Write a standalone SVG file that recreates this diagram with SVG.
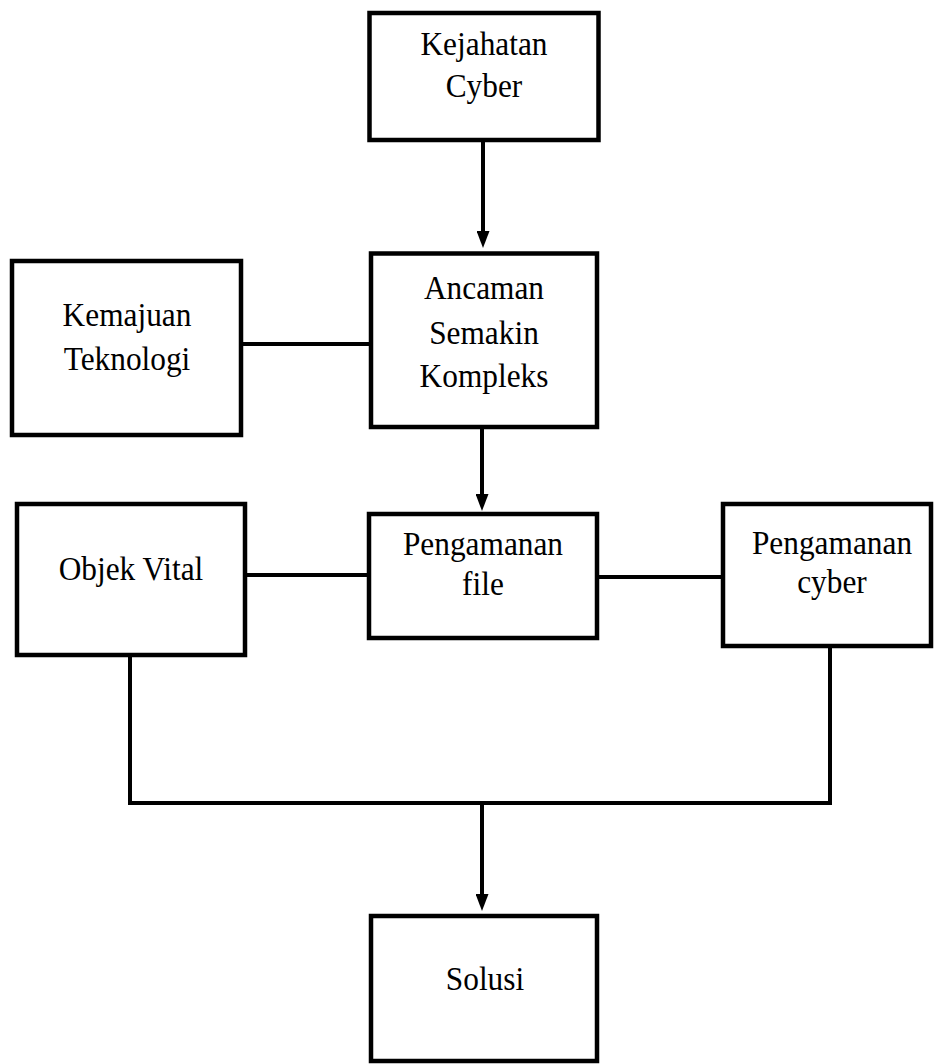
<svg xmlns="http://www.w3.org/2000/svg" width="935" height="1064" viewBox="0 0 935 1064">
<style>
.box{fill:#fff;stroke:#000;stroke-width:4.5}
.ln{fill:none;stroke:#000;stroke-width:4}
text{font-family:"Liberation Serif","Times New Roman",serif;font-size:33px;fill:#000;text-anchor:middle;transform-box:fill-box;transform-origin:center;transform:scaleX(0.95)}
</style>
<defs>
<marker id="ah" markerUnits="userSpaceOnUse" markerWidth="17" markerHeight="13" refX="0" refY="6.5" orient="auto" viewBox="0 0 17 13">
<path d="M0,0 L17,6.5 L0,13 Z" fill="#000"/>
</marker>
</defs>
<rect width="935" height="1064" fill="#fff"/>
<g id="connectors">
<line class="ln" x1="483" y1="142" x2="483" y2="231" marker-end="url(#ah)"/>
<line class="ln" x1="243" y1="344" x2="369" y2="344"/>
<line class="ln" x1="482" y1="429" x2="482" y2="494" marker-end="url(#ah)"/>
<line class="ln" x1="247" y1="575" x2="367" y2="575"/>
<line class="ln" x1="599" y1="577" x2="721" y2="577"/>
<polyline class="ln" points="130,657 130,803 830,803 830,648"/>
<line class="ln" x1="482" y1="803" x2="482" y2="894" marker-end="url(#ah)"/>
</g>
<g id="kejahatan">
<rect class="box" x="369.5" y="13" width="229" height="127"/>
<text x="484" y="55">Kejahatan</text>
<text x="484" y="97">Cyber</text>
</g>
<g id="kemajuan">
<rect class="box" x="12" y="261" width="229" height="174"/>
<text x="127" y="326">Kemajuan</text>
<text x="127" y="370">Teknologi</text>
</g>
<g id="ancaman">
<rect class="box" x="371" y="253.5" width="226" height="173.5"/>
<text x="484" y="299">Ancaman</text>
<text x="484" y="344">Semakin</text>
<text x="484" y="387">Kompleks</text>
</g>
<g id="objek">
<rect class="box" x="17" y="504" width="228" height="151"/>
<text x="131" y="580">Objek Vital</text>
</g>
<g id="pengamanan-file">
<rect class="box" x="369" y="514" width="228" height="124"/>
<text x="483" y="555">Pengamanan</text>
<text x="483" y="595">file</text>
</g>
<g id="pengamanan-cyber">
<rect class="box" x="723" y="504" width="208" height="142"/>
<text x="832" y="554">Pengamanan</text>
<text x="832" y="593">cyber</text>
</g>
<g id="solusi">
<rect class="box" x="371" y="916" width="226" height="145"/>
<text x="485" y="990">Solusi</text>
</g>
</svg>
